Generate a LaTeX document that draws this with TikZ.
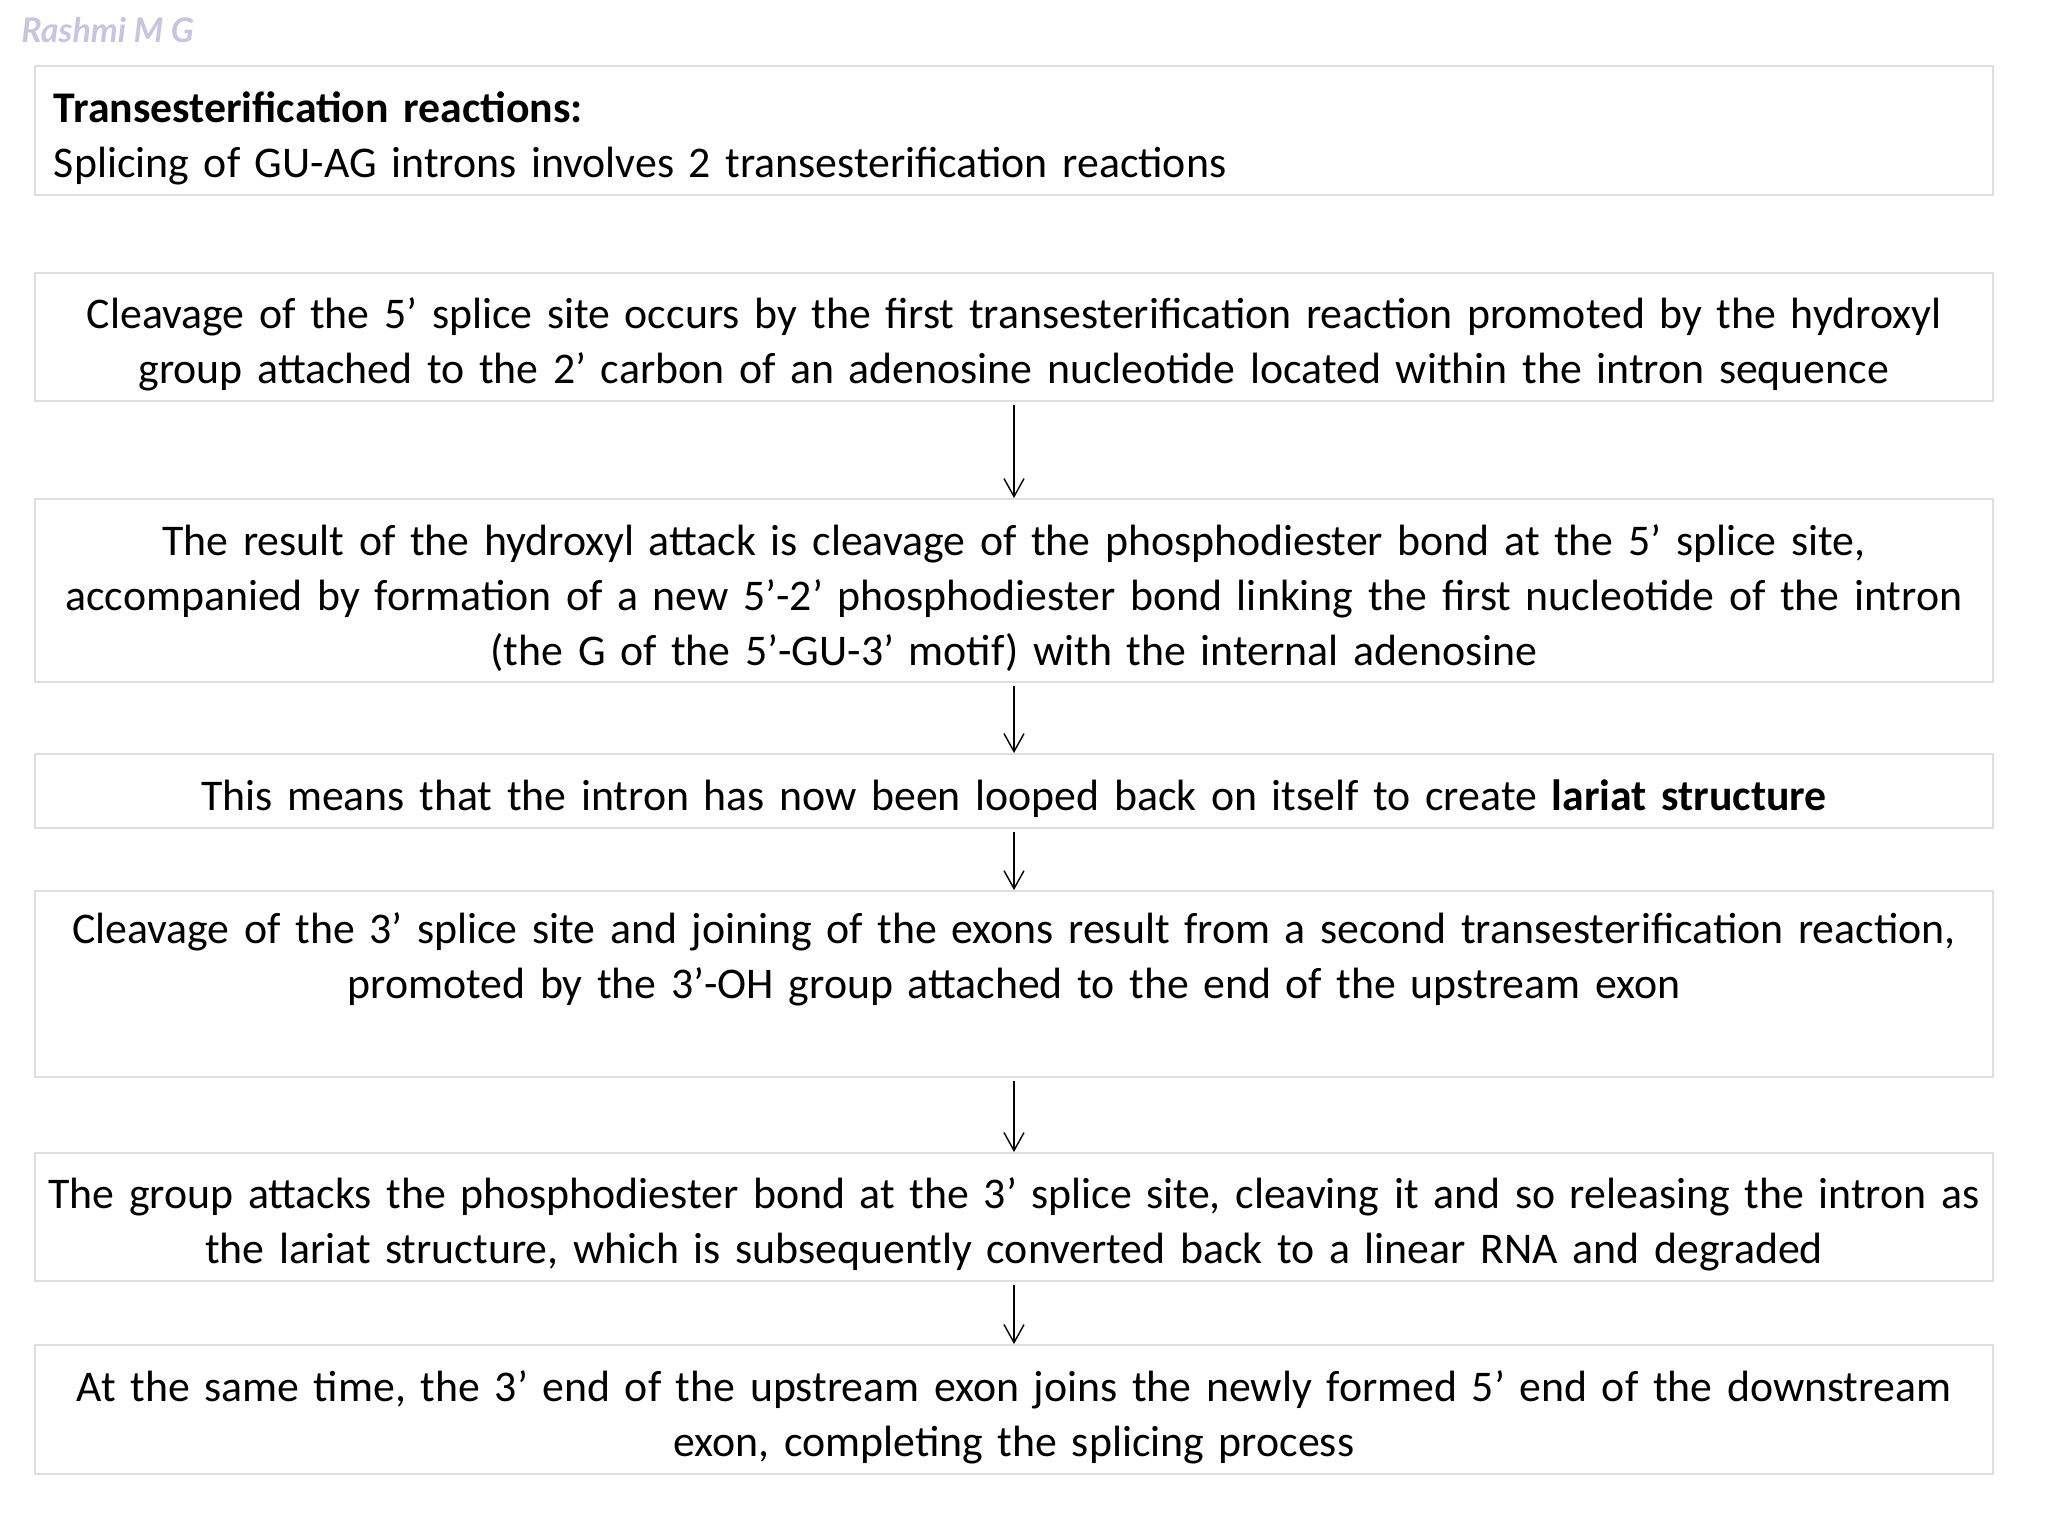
\documentclass[tikz,border=0pt]{standalone}
\usepackage{fontspec}
\setmainfont{Carlito}
\newfontfamily\markfont{Lato}
\usetikzlibrary{positioning}
\usetikzlibrary{arrows.meta}

\definecolor{boxgray}{RGB}{222,222,222}
\definecolor{markgray}{RGB}{201,197,222}

\tikzset{
  stage/.style={draw=boxgray, line width=1pt, minimum width=979pt,
    text width=979pt, inner xsep=0pt, align=center, text height=23pt,
    font=\fontsize{21.9}{27.5}\selectfont},
  headbox/.style={stage, align=left, inner xsep=9.5pt, text width=960pt},
  flow/.style={-{Straight Barb[length=9pt,width=10pt]}, line width=0.7pt, shorten <=1.5pt}
}

\begin{document}
\begin{tikzpicture}[x=0.5pt, y=-0.5pt]
  \useasboundingbox (0,0) rectangle (2048,1536);

  \node[anchor=base west, text=markgray, inner sep=0pt,
        font=\markfont\fontsize{17}{20}\selectfont\bfseries\itshape] (mark) at (21,43) {Rashmi M G};

  \node[headbox, minimum height=64.5pt] (intro) at (1014,130.5)
    {\textbf{Transesterification reactions:}\\
     Splicing of GU-AG introns involves 2 transesterification reactions};

  \node[stage, minimum height=64pt] (cut5) at (1014,337)
    {Cleavage of the 5’ splice site occurs by the first transesterification reaction promoted by the hydroxyl\\
     group attached to the 2’ carbon of an adenosine nucleotide located within the intron sequence};

  \node[stage, minimum height=91.5pt] (bond) at (1014,590.5)
    {The result of the hydroxyl attack is cleavage of the phosphodiester bond at the 5’ splice site,\\
     accompanied by formation of a new 5’-2’ phosphodiester bond linking the first nucleotide of the intron\\
     (the G of the 5’-GU-3’ motif) with the internal adenosine};

  \node[stage, minimum height=37pt] (lariat) at (1014,791)
    {This means that the intron has now been looped back on itself to create \textbf{lariat structure}};

  \node[stage, minimum height=91.5pt] (cut3) at (1014,984)
    {Cleavage of the 3’ splice site and joining of the exons result from a second transesterification reaction,\\
     promoted by the 3’-OH group attached to the end of the upstream exon\\ \strut};

  \node[stage, minimum height=64pt] (release) at (1014,1217)
    {The group attacks the phosphodiester bond at the 3’ splice site, cleaving it and so releasing the intron as\\
     the lariat structure, which is subsequently converted back to a linear RNA and degraded};

  \node[stage, minimum height=64.5pt] (join) at (1014,1409.5)
    {At the same time, the 3’ end of the upstream exon joins the newly formed 5’ end of the downstream\\
     exon, completing the splicing process};

  \draw[flow] (cut5) -- (bond);
  \draw[flow] (bond) -- (lariat);
  \draw[flow] (lariat) -- (cut3);
  \draw[flow] (cut3) -- (release);
  \draw[flow] (release) -- (join);
\end{tikzpicture}
\end{document}
